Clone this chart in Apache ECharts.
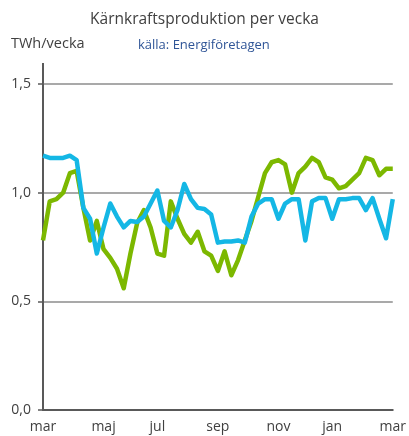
<!DOCTYPE html>
<html>
<head>
<meta charset="utf-8">
<script src="https://cdn.jsdelivr.net/npm/echarts@6/dist/echarts.min.js"></script>
<style>
  html, body { margin: 0; padding: 0; background: #fff; }
  #main { width: 409px; height: 436px; }
</style>
</head>
<body>
<div id="main"></div>
<script>
// veckor 0..52, mars till mars
var weeks = [];
for (var i = 0; i <= 52; i++) { weeks.push('v' + i); }

// månadsetiketter och vilken vecka de hamnar på
var monthLabels = ['mar', 'maj', 'jul', 'sep', 'nov', 'jan', 'mar'];
var monthWeeks = [0, 9, 17, 26, 35, 43, 52];

// grön serie (TWh/vecka)
var greenValues = [
  0.78, 0.96, 0.97, 1.00, 1.09, 1.10, 0.93, 0.78, 0.87, 0.74,
  0.70, 0.65, 0.56, 0.72, 0.86, 0.92, 0.84, 0.72, 0.71, 0.96,
  0.88, 0.81, 0.77, 0.82, 0.73, 0.71, 0.64, 0.73, 0.62, 0.69,
  0.78, 0.87, 0.98, 1.09, 1.14, 1.15, 1.13, 1.00, 1.09, 1.12,
  1.16, 1.14, 1.07, 1.06, 1.02, 1.03, 1.06, 1.09, 1.16, 1.15,
  1.08, 1.11, 1.11
];

// blå serie (TWh/vecka)
var blueValues = [
  1.17, 1.16, 1.16, 1.16, 1.17, 1.15, 0.93, 0.88, 0.72, 0.84,
  0.95, 0.89, 0.84, 0.87, 0.865, 0.89, 0.95, 1.01, 0.87, 0.84,
  0.92, 1.04, 0.97, 0.93, 0.925, 0.90, 0.77, 0.775, 0.775, 0.78,
  0.77, 0.89, 0.95, 0.97, 0.97, 0.88, 0.95, 0.97, 0.97, 0.78,
  0.96, 0.975, 0.975, 0.88, 0.97, 0.97, 0.975, 0.975, 0.92, 0.975,
  0.88, 0.79, 0.97
];

var yTicks = [0, 0.5, 1.0, 1.5];

var myChart = echarts.init(document.getElementById('main'));
var font = 'Open Sans';

myChart.setOption({
    animation: false,
    backgroundColor: '#ffffff',
    title: [
        {
            text: 'Kärnkraftsproduktion per vecka',
            left: 'center',
            top: 7,
            textStyle: { fontFamily: font, fontSize: 15.5, fontWeight: 'normal', color: '#404040' }
        },
        {
            text: 'TWh/vecka',
            left: 6,
            top: 31,
            textStyle: { fontFamily: font, fontSize: 14.5, fontWeight: 'normal', color: '#404040' }
        },
        {
            text: 'källa: Energiföretagen',
            left: 133,
            top: 34,
            textStyle: { fontFamily: font, fontSize: 13, fontWeight: 'normal', color: '#2f5597' }
        }
    ],
    grid: { left: 43, right: 11, top: 84, bottom: 26 },
    xAxis: {
        type: 'category',
        data: weeks,
        boundaryGap: false,
        axisLine: { lineStyle: { color: '#595959', width: 2 } },
        axisTick: { show: false },
        axisLabel: {
            interval: function (idx) { return monthWeeks.indexOf(idx) >= 0; },
            formatter: function (val, idx) {
                var k = monthWeeks.indexOf(idx);
                return k >= 0 ? monthLabels[k] : '';
            },
            fontFamily: font,
            fontSize: 14,
            color: '#404040',
            margin: 10
        },
        splitLine: { show: false }
    },
    yAxis: {
        type: 'value',
        min: yTicks[0],
        max: yTicks[yTicks.length - 1],
        interval: 0.5,
        axisLine: { show: true, lineStyle: { color: '#595959', width: 2 } },
        axisTick: { show: true, length: 5, lineStyle: { color: '#595959', width: 1.5 } },
        axisLabel: {
            formatter: function (v) { return v.toFixed(1).replace('.', ','); },
            fontFamily: font,
            fontSize: 14,
            color: '#404040',
            margin: 12
        },
        splitLine: { show: true, lineStyle: { color: '#8c8c8c', width: 1.5 } }
    },
    graphic: [
        {
            type: 'line',
            shape: { x1: 43, y1: 63, x2: 43, y2: 84 },
            style: { stroke: '#595959', lineWidth: 2 }
        }
    ],
    series: [
        {
            name: 'grön',
            type: 'line',
            data: greenValues,
            symbol: 'none',
            lineStyle: { color: '#7cb800', width: 4.5, join: 'round' }
        },
        {
            name: 'blå',
            type: 'line',
            data: blueValues,
            symbol: 'none',
            lineStyle: { color: '#14b7e5', width: 4.5, join: 'round' }
        }
    ]
});
</script>
</body>
</html>
